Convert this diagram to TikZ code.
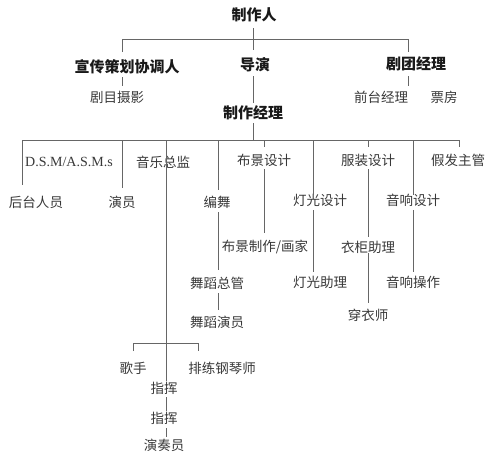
\documentclass[tikz,border=0pt]{standalone}
\usepackage{fontspec}
\setmainfont{Liberation Serif}
\newfontfamily\cjk{Noto Sans CJK SC}
\begin{document}
\begin{tikzpicture}[x=1pt,y=-1pt,
  hd/.style={font=\cjk\bfseries\fontsize{15}{15}\selectfont, inner sep=0pt, text=black!90},
  tx/.style={font=\cjk\fontsize{13.5}{13.5}\selectfont, inner sep=0pt, text=black!78},
  rm/.style={font=\fontsize{14}{14}\selectfont, inner sep=0pt, text=black!78},
  ln/.style={draw=black!60, line width=0.9pt}]
\useasboundingbox (0,0) rectangle (489,464);
% nodes
\node[hd] (zzr) at (254,15) {制作人};
\node[hd] (xc) at (127,67) {宣传策划协调人};
\node[hd] (dy) at (255,65) {导演};
\node[hd] (jt) at (416,64) {剧团经理};
\node[tx] (jmsy) at (117,97) {剧目摄影};
\node[tx] (qt) at (381,97) {前台经理};
\node[tx] (pf) at (444,97) {票房};
\node[hd] (zzjl) at (253,113) {制作经理};
\node[rm] (dsm) at (69,162) {D.S.M/A.S.M.s};
\node[tx] (ht) at (36,202) {后台人员};
\node[tx] (yy) at (122,202) {演员};
\node[tx] (yyzj) at (163,162) {音乐总监};
\node[tx] (bw) at (217,202) {编舞};
\node[tx] (bjsj) at (264,160) {布景设计};
\node[tx] (fzsj) at (368,160) {服装设计};
\node[tx] (jf) at (458,160) {假发主管};
\node[tx] (dgsj) at (320,200) {灯光设计};
\node[tx] (yxsj) at (413,200) {音响设计};
\node[tx] (bjzz) at (265,247) {布景制作/画家};
\node[tx] (ygzl) at (368,247) {衣柜助理};
\node[tx] (wdzg) at (217,283) {舞蹈总管};
\node[tx] (dgzl) at (320,282) {灯光助理};
\node[tx] (yxcz) at (413,282) {音响操作};
\node[tx] (wdyy) at (217,322) {舞蹈演员};
\node[tx] (cys) at (368,315) {穿衣师};
\node[tx] (gs) at (133,368) {歌手};
\node[tx] (plg) at (222,368) {排练钢琴师};
\node[tx] (zh1) at (164,388) {指挥};
\node[tx] (zh2) at (164,418) {指挥};
\node[tx] (yzy) at (164,445) {演奏员};
% connectors
\draw[ln] (253,28) -- (253,50);
\draw[ln] (122,52) -- (122,39) -- (408,39) -- (408,52);
\draw[ln] (122,77) -- (122,86);
\draw[ln] (408,76) -- (408,86);
\draw[ln] (253,76) -- (253,103);
\draw[ln] (253,123) -- (253,140);
\draw[ln] (22,140) -- (459,140);
\draw[ln] (22,140) -- (22,185);
\draw[ln] (122,140) -- (122,188);
\draw[ln] (166,140) -- (166,381);
\draw[ln] (133,351) -- (133,343) -- (198,343) -- (198,351);
\draw[ln] (166,397) -- (166,411);
\draw[ln] (166,428) -- (166,437);
\draw[ln] (218,140) -- (218,190);
\draw[ln] (218,212) -- (218,270);
\draw[ln] (218,293) -- (218,310);
\draw[ln] (264,140) -- (264,147);
\draw[ln] (264,169) -- (264,233);
\draw[ln] (313,140) -- (313,195);
\draw[ln] (313,210) -- (313,272);
\draw[ln] (368,140) -- (368,147);
\draw[ln] (368,169) -- (368,237);
\draw[ln] (368,253) -- (368,303);
\draw[ln] (413,140) -- (413,195);
\draw[ln] (413,210) -- (413,272);
\draw[ln] (459,140) -- (459,147);
\end{tikzpicture}
\end{document}
